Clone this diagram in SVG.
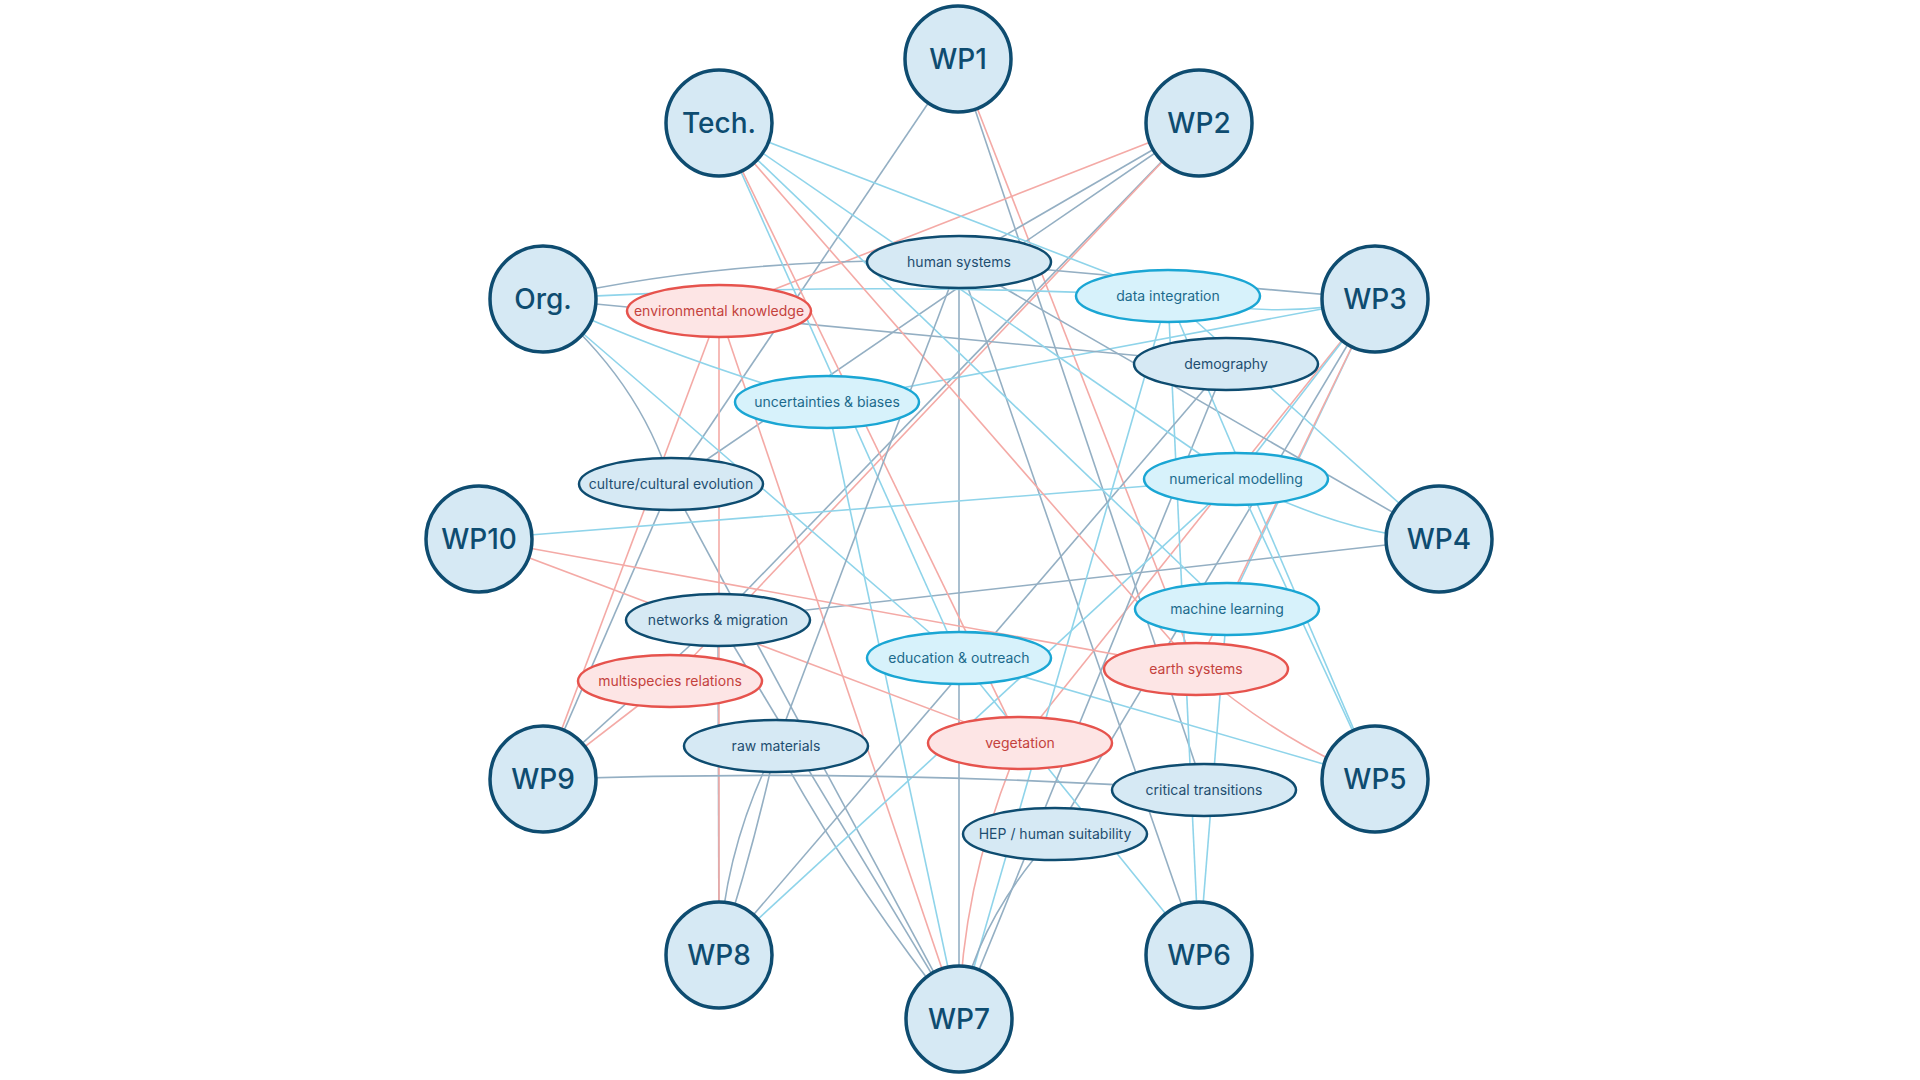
<svg xmlns="http://www.w3.org/2000/svg" width="1920" height="1080" viewBox="0 0 1920 1080">
<style>
.bg{fill:#ffffff}
.e{fill:none;stroke-width:1.6}
.b{stroke:#8fd4ea}
.g{stroke:#94afc3}
.r{stroke:#f4aaa6}
.wp circle{fill:#d6e9f4;stroke:#0e4c70;stroke-width:3.5}
.wp text{font-family:Inter,"Noto Sans",sans-serif;font-size:28px;font-weight:500;fill:#0e4c70;text-anchor:middle}
.c ellipse{stroke-width:2.5}
.c text{font-family:Inter,"Noto Sans",sans-serif;font-size:14px;font-weight:400;text-anchor:middle}
.dk ellipse{fill:#d6e9f4;stroke:#0e4c70}
.dk text{fill:#1e4e70}
.cy ellipse{fill:#d7f2fb;stroke:#1aa6d4}
.cy text{fill:#1c6a8c}
.rd ellipse{fill:#fde5e5;stroke:#e6534d}
.rd text{fill:#c4423d}
</style>
<rect class="bg" x="0" y="0" width="1920" height="1080"/>
<g id="connectors">
<!-- WP1 -->
<line class="e g" x1="958" y1="59" x2="671" y2="484"/>
<line class="e g" x1="958" y1="59" x2="1204" y2="790"/>
<line class="e r" x1="958" y1="59" x2="1196" y2="669"/>
<!-- WP2 -->
<line class="e r" x1="1199" y1="123" x2="719" y2="311"/>
<line class="e g" x1="1199" y1="123" x2="959" y2="262"/>
<line class="e g" x1="1199" y1="123" x2="671" y2="484"/>
<line class="e g" x1="1199" y1="123" x2="718" y2="620"/>
<line class="e r" x1="1199" y1="123" x2="670" y2="681"/>
<!-- WP3 -->
<line class="e g" x1="1375" y1="299" x2="959" y2="262"/>
<path class="e b" d="M1375,299 Q1272,322 1168,296"/>
<line class="e b" x1="1375" y1="299" x2="827" y2="402"/>
<line class="e r" x1="1375" y1="299" x2="1020" y2="743"/>
<line class="e b" x1="1375" y1="299" x2="1236" y2="479"/>
<line class="e b" x1="1375" y1="299" x2="1227" y2="609"/>
<line class="e g" x1="1375" y1="299" x2="1055" y2="834"/>
<line class="e r" x1="1375" y1="299" x2="1196" y2="669"/>
<!-- WP4 -->
<line class="e g" x1="1439" y1="539" x2="959" y2="262"/>
<path class="e b" d="M1439,539 Q1350,537 1236,479"/>
<line class="e b" x1="1439" y1="539" x2="1168" y2="296"/>
<line class="e g" x1="1439" y1="539" x2="718" y2="620"/>
<!-- WP5 -->
<line class="e b" x1="1375" y1="779" x2="1236" y2="479"/>
<line class="e b" x1="1375" y1="779" x2="1168" y2="296"/>
<path class="e r" d="M1375,779 Q1285,745 1196,669"/>
<line class="e b" x1="1375" y1="779" x2="959" y2="658"/>
<!-- WP6 -->
<line class="e b" x1="1199" y1="955" x2="959" y2="658"/>
<line class="e g" x1="1199" y1="955" x2="959" y2="262"/>
<line class="e b" x1="1199" y1="955" x2="1168" y2="296"/>
<line class="e b" x1="1199" y1="955" x2="1227" y2="609"/>
<!-- WP7 -->
<path class="e g" d="M959,1019 Q855,890 776,746"/>
<line class="e g" x1="959" y1="1019" x2="718" y2="620"/>
<line class="e g" x1="959" y1="1019" x2="671" y2="484"/>
<line class="e r" x1="959" y1="1019" x2="719" y2="311"/>
<line class="e b" x1="959" y1="1019" x2="827" y2="402"/>
<line class="e g" x1="959" y1="1019" x2="959" y2="262"/>
<path class="e r" d="M959,1019 Q962,880 1020,743"/>
<line class="e b" x1="959" y1="1019" x2="1168" y2="296"/>
<line class="e g" x1="959" y1="1019" x2="1226" y2="364"/>
<path class="e g" d="M959,1019 Q973,925 1055,834"/>
<!-- WP8 -->
<line class="e g" x1="719" y1="955" x2="718" y2="620"/>
<line class="e r" x1="719" y1="955" x2="719" y2="311"/>
<path class="e g" d="M719,955 Q725,845 776,746"/>
<path class="e g" d="M719,955 Q752,855 776,746"/>
<line class="e g" x1="719" y1="955" x2="1226" y2="364"/>
<line class="e b" x1="719" y1="955" x2="1236" y2="479"/>
<!-- WP9 -->
<path class="e g" d="M543,779 Q873,768 1204,790"/>
<line class="e g" x1="543" y1="779" x2="718" y2="620"/>
<line class="e r" x1="543" y1="779" x2="670" y2="681"/>
<line class="e g" x1="543" y1="779" x2="671" y2="484"/>
<line class="e r" x1="543" y1="779" x2="719" y2="311"/>
<!-- WP10 -->
<line class="e b" x1="479" y1="539" x2="1236" y2="479"/>
<line class="e r" x1="479" y1="539" x2="1196" y2="669"/>
<line class="e r" x1="479" y1="539" x2="1020" y2="743"/>
<!-- Org -->
<path class="e g" d="M543,299 Q740,255 959,262"/>
<path class="e b" d="M543,299 Q850,280 1168,296"/>
<line class="e g" x1="543" y1="299" x2="1226" y2="364"/>
<path class="e b" d="M543,299 Q690,365 827,402"/>
<line class="e b" x1="543" y1="299" x2="959" y2="658"/>
<path class="e g" d="M543,299 Q640,380 671,484"/>
<!-- Tech -->
<line class="e b" x1="719" y1="123" x2="1168" y2="296"/>
<line class="e b" x1="719" y1="123" x2="1236" y2="479"/>
<line class="e b" x1="719" y1="123" x2="1227" y2="609"/>
<line class="e r" x1="719" y1="123" x2="1196" y2="669"/>
<line class="e b" x1="719" y1="123" x2="959" y2="658"/>
<line class="e r" x1="719" y1="123" x2="1020" y2="743"/>
<!-- other -->
<line class="e g" x1="959" y1="262" x2="776" y2="746"/>
</g>
<g id="wp1" class="wp"><circle cx="958" cy="59" r="53"/><text x="958" y="69">WP1</text></g>
<g id="wp2" class="wp"><circle cx="1199" cy="123" r="53"/><text x="1199" y="133">WP2</text></g>
<g id="wp3" class="wp"><circle cx="1375" cy="299" r="53"/><text x="1375" y="309">WP3</text></g>
<g id="wp4" class="wp"><circle cx="1439" cy="539" r="53"/><text x="1439" y="549">WP4</text></g>
<g id="wp5" class="wp"><circle cx="1375" cy="779" r="53"/><text x="1375" y="789">WP5</text></g>
<g id="wp6" class="wp"><circle cx="1199" cy="955" r="53"/><text x="1199" y="965">WP6</text></g>
<g id="wp7" class="wp"><circle cx="959" cy="1019" r="53"/><text x="959" y="1029">WP7</text></g>
<g id="wp8" class="wp"><circle cx="719" cy="955" r="53"/><text x="719" y="965">WP8</text></g>
<g id="wp9" class="wp"><circle cx="543" cy="779" r="53"/><text x="543" y="789">WP9</text></g>
<g id="wp10" class="wp"><circle cx="479" cy="539" r="53"/><text x="479" y="549">WP10</text></g>
<g id="org" class="wp"><circle cx="543" cy="299" r="53"/><text x="543" y="309">Org.</text></g>
<g id="tech" class="wp"><circle cx="719" cy="123" r="53"/><text x="719" y="133">Tech.</text></g>
<g id="human-systems" class="c dk"><ellipse cx="959" cy="262" rx="92" ry="26"/><text x="959" y="267">human systems</text></g>
<g id="data-integration" class="c cy"><ellipse cx="1168" cy="296" rx="92" ry="26"/><text x="1168" y="301">data integration</text></g>
<g id="environmental-knowledge" class="c rd"><ellipse cx="719" cy="311" rx="92" ry="26"/><text x="719" y="316">environmental knowledge</text></g>
<g id="demography" class="c dk"><ellipse cx="1226" cy="364" rx="92" ry="26"/><text x="1226" y="369">demography</text></g>
<g id="uncertainties" class="c cy"><ellipse cx="827" cy="402" rx="92" ry="26"/><text x="827" y="407">uncertainties &amp; biases</text></g>
<g id="culture" class="c dk"><ellipse cx="671" cy="484" rx="92" ry="26"/><text x="671" y="489">culture/cultural evolution</text></g>
<g id="numerical-modelling" class="c cy"><ellipse cx="1236" cy="479" rx="92" ry="26"/><text x="1236" y="484">numerical modelling</text></g>
<g id="machine-learning" class="c cy"><ellipse cx="1227" cy="609" rx="92" ry="26"/><text x="1227" y="614">machine learning</text></g>
<g id="networks" class="c dk"><ellipse cx="718" cy="620" rx="92" ry="26"/><text x="718" y="625">networks &amp; migration</text></g>
<g id="education" class="c cy"><ellipse cx="959" cy="658" rx="92" ry="26"/><text x="959" y="663">education &amp; outreach</text></g>
<g id="earth-systems" class="c rd"><ellipse cx="1196" cy="669" rx="92" ry="26"/><text x="1196" y="674">earth systems</text></g>
<g id="multispecies" class="c rd"><ellipse cx="670" cy="681" rx="92" ry="26"/><text x="670" y="686">multispecies relations</text></g>
<g id="vegetation" class="c rd"><ellipse cx="1020" cy="743" rx="92" ry="26"/><text x="1020" y="748">vegetation</text></g>
<g id="raw-materials" class="c dk"><ellipse cx="776" cy="746" rx="92" ry="26"/><text x="776" y="751">raw materials</text></g>
<g id="critical-transitions" class="c dk"><ellipse cx="1204" cy="790" rx="92" ry="26"/><text x="1204" y="795">critical transitions</text></g>
<g id="hep" class="c dk"><ellipse cx="1055" cy="834" rx="92" ry="26"/><text x="1055" y="839">HEP / human suitability</text></g>
</svg>
